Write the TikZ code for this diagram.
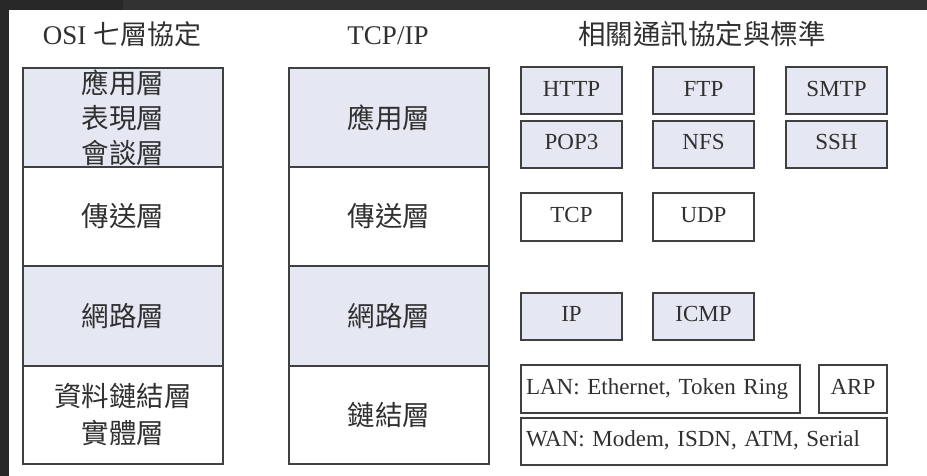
\documentclass[tikz,border=0pt]{standalone}
\usepackage{fontspec}
\setmainfont{Liberation Serif}
\newfontfamily\cjk{Noto Sans CJK TC}
\definecolor{boxfill}{HTML}{E5E8F2}
\definecolor{linec}{HTML}{404040}
\definecolor{textc}{HTML}{303030}
\definecolor{frameA}{HTML}{282828}
\definecolor{frameB}{HTML}{323232}
\tikzset{
  layer/.style={draw=linec, line width=2pt, minimum width=200pt, minimum height=99pt,
    text=textc, inner sep=0pt, align=center, font=\fontsize{27.5}{35}\selectfont\cjk},
  shaded/.style={fill=boxfill},
  plainbox/.style={fill=white},
  proto/.style={draw=linec, line width=2pt, minimum width=101pt, minimum height=47pt,
    text height=16pt, text depth=5.5pt, text=textc, inner sep=0pt,
    font=\fontsize{23}{27}\selectfont},
  title/.style={anchor=base, text=textc, inner sep=0pt, font=\fontsize{27}{32}\selectfont}
}
\begin{document}
\begin{tikzpicture}[x=1pt,y=-1pt]
\useasboundingbox (0,0) rectangle (927,476);
\fill[white] (0,0) rectangle (927,476);
% dark frame
\fill[frameA] (0,0) rectangle (123,10);
\fill[frameB] (123,0) rectangle (927,10);
\fill[frameA] (0,0) rectangle (9,476);

% titles
\node[title] (t1) at (122,45) {OSI {\cjk 七層協定}};
\node[title] (t2) at (388,45) {TCP/IP};
\node[title, font=\fontsize{27.5}{32}\selectfont\cjk] (t3) at (702,45) {相關通訊協定與標準};

% OSI column
\node[layer, shaded] (osiA) at (123,117.5) {應用層\\表現層\\會談層};
\node[layer, plainbox] (osiB) at (123,216.5) {傳送層};
\node[layer, shaded, minimum height=100pt] (osiC) at (123,316) {網路層};
\node[layer, plainbox, minimum height=98pt, font=\fontsize{27.5}{37}\selectfont\cjk] (osiD) at (123,415) {資料鏈結層\\實體層};

% TCP/IP column
\node[layer, shaded] (tcpA) at (389,117.5) {應用層};
\node[layer, plainbox] (tcpB) at (389,216.5) {傳送層};
\node[layer, shaded, minimum height=100pt] (tcpC) at (389,316) {網路層};
\node[layer, plainbox, minimum height=98pt] (tcpD) at (389,415) {鏈結層};

% protocols
\node[proto, shaded] (http) at (571.5,91) {HTTP};
\node[proto, shaded] (ftp) at (703.5,91) {FTP};
\node[proto, shaded] (smtp) at (836.5,91) {SMTP};
\node[proto, shaded] (pop) at (571.5,144.5) {POP3};
\node[proto, shaded] (nfs) at (703.5,144.5) {NFS};
\node[proto, shaded] (ssh) at (836.5,144.5) {SSH};

\node[proto, plainbox] (tcp) at (571.5,217) {TCP};
\node[proto, plainbox] (udp) at (703.5,217) {UDP};

\node[proto, shaded] (ip) at (571.5,316.5) {IP};
\node[proto, shaded] (icmp) at (703.5,316.5) {ICMP};

\node[proto, plainbox, minimum width=279pt, minimum height=48pt, inner xsep=5pt,
      text width=269pt, align=left] (lan) at (660.5,389) {LAN: Ethernet, Token Ring};
\node[proto, plainbox, minimum width=68pt, minimum height=48pt] (arp) at (853,389) {ARP};
\node[proto, plainbox, minimum width=366pt, inner xsep=5pt,
      text width=356pt, align=left] (wan) at (704,441.5) {WAN: Modem, ISDN, ATM, Serial};
\end{tikzpicture}
\end{document}
